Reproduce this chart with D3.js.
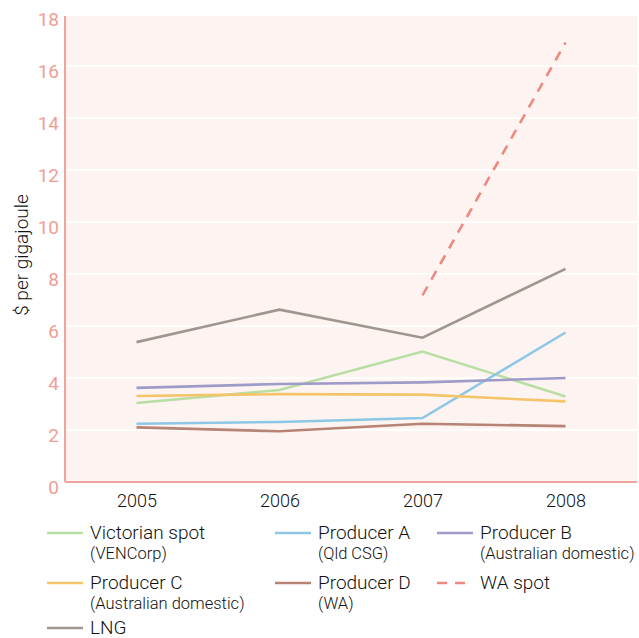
<!DOCTYPE html>
<html>
<head>
<meta charset="utf-8">
<script src="https://cdn.jsdelivr.net/npm/d3@7"></script>
<style>
  html, body { margin: 0; padding: 0; background: #ffffff; }
  svg { display: block; font-family: Roboto, "DejaVu Sans", sans-serif; font-weight: 300; }
</style>
</head>
<body>
<svg id="chart" width="639" height="638"></svg>
<script>
// Gas prices by source, $ per gigajoule
const years = ["2005", "2006", "2007", "2008"];
const yTicks = [0, 2, 4, 6, 8, 10, 12, 14, 16, 18];

const victorianSpot = [3.04, 3.54, 5.02, 3.29];
const producerA     = [2.24, 2.31, 2.46, 5.75];
const producerB     = [3.62, 3.77, 3.83, 4.0];
const producerC     = [3.31, 3.38, 3.36, 3.1];
const producerD     = [2.1, 1.95, 2.24, 2.15];
const waSpot        = [null, null, 7.18, 16.9];
const lng           = [5.38, 6.63, 5.55, 8.2];

const seriesNames = ["Victorian spot", "Producer A", "Producer B", "Producer C", "Producer D", "WA spot", "LNG"];
const seriesSubs  = ["(VENCorp)", "(Qld CSG)", "(Australian domestic)", "(Australian domestic)", "(WA)", "", ""];
const seriesValues = [victorianSpot, producerA, producerB, producerC, producerD, waSpot, lng];
const seriesColors = ["#b8dea4", "#8ec7e6", "#9f9bc8", "#f4c46a", "#b68374", "#ee8982", "#9f978f"];
const seriesDashed = [false, false, false, false, false, true, false];

const svg = d3.select("#chart");
const plotLeft = 65, plotRight = 637, plotTop = 16, plotBottom = 482;

const x = d3.scalePoint().domain(years).range([plotLeft, plotRight]).padding(0.5);
const y = d3.scaleLinear().domain([0, 18]).range([plotBottom, plotBottom - 18 * 26]);

// plot background
svg.append("rect")
  .attr("x", plotLeft).attr("y", plotTop)
  .attr("width", plotRight - plotLeft).attr("height", plotBottom - plotTop)
  .attr("fill", "#fdf4f1");

// horizontal gridlines
svg.append("g")
  .selectAll("line")
  .data(yTicks.filter(d => d > 0))
  .join("line")
  .attr("x1", plotLeft).attr("x2", plotRight)
  .attr("y1", d => y(d)).attr("y2", d => y(d))
  .attr("stroke", "#ffffff").attr("stroke-width", 1.5);

// y axis
const yAxis = svg.append("g")
  .attr("transform", `translate(${plotLeft},0)`)
  .call(d3.axisLeft(y).tickValues(yTicks).tickSize(0).tickPadding(6));
yAxis.select(".domain").attr("stroke", "#f0a59c").attr("stroke-width", 2)
  .attr("d", `M0,${plotTop}V${plotBottom}`);
yAxis.selectAll("text")
  .attr("fill", "#f09e95")
  .attr("font-size", 19)
  .attr("font-weight", 400)
  .attr("font-family", "Roboto, sans-serif")
  .attr("dy", "0.6em");

// x axis
const xAxis = svg.append("g")
  .attr("transform", `translate(0,${plotBottom})`)
  .call(d3.axisBottom(x).tickSize(0).tickPadding(12));
xAxis.select(".domain").attr("stroke", "#f0a59c").attr("stroke-width", 2)
  .attr("d", `M${plotLeft},0H${plotRight}`);
xAxis.selectAll("text")
  .attr("fill", "#111111")
  .attr("font-size", 18)
  .attr("font-family", "Roboto, sans-serif");

// y axis title
svg.append("text")
  .attr("transform", "translate(28,255) rotate(-90)")
  .attr("text-anchor", "middle")
  .attr("font-size", 19)
  .attr("fill", "#111111")
  .text("$ per gigajoule");

// series lines
const line = d3.line()
  .defined(d => d.v != null)
  .x(d => x(d.year))
  .y(d => y(d.v));

seriesValues.forEach((vals, i) => {
  const pts = years.map((yr, j) => ({ year: yr, v: vals[j] }));
  svg.append("path")
    .datum(pts)
    .attr("d", line)
    .attr("fill", "none")
    .attr("stroke", seriesColors[i])
    .attr("stroke-width", 2.6)
    .attr("stroke-dasharray", seriesDashed[i] ? "10,8" : null);
});

// legend
const legendCols = [47, 275, 437];
const legendRows = [533, 583, 628];
const legend = svg.append("g");
seriesNames.forEach((name, i) => {
  const cx = legendCols[i % 3];
  const cy = legendRows[Math.floor(i / 3)];
  const g = legend.append("g").attr("transform", `translate(${cx},${cy})`);
  g.append("line")
    .attr("x1", 0).attr("x2", 36).attr("y1", 0).attr("y2", 0)
    .attr("stroke", seriesColors[i])
    .attr("stroke-width", 2.6)
    .attr("stroke-dasharray", seriesDashed[i] ? "10,8" : null);
  g.append("text")
    .attr("x", 43).attr("y", 6)
    .attr("font-size", 19)
    .attr("fill", "#111111")
    .text(name);
  if (seriesSubs[i]) {
    g.append("text")
      .attr("x", 43).attr("y", 26)
      .attr("font-size", 16.5)
      .attr("fill", "#111111")
      .text(seriesSubs[i]);
  }
});
</script>
</body>
</html>
